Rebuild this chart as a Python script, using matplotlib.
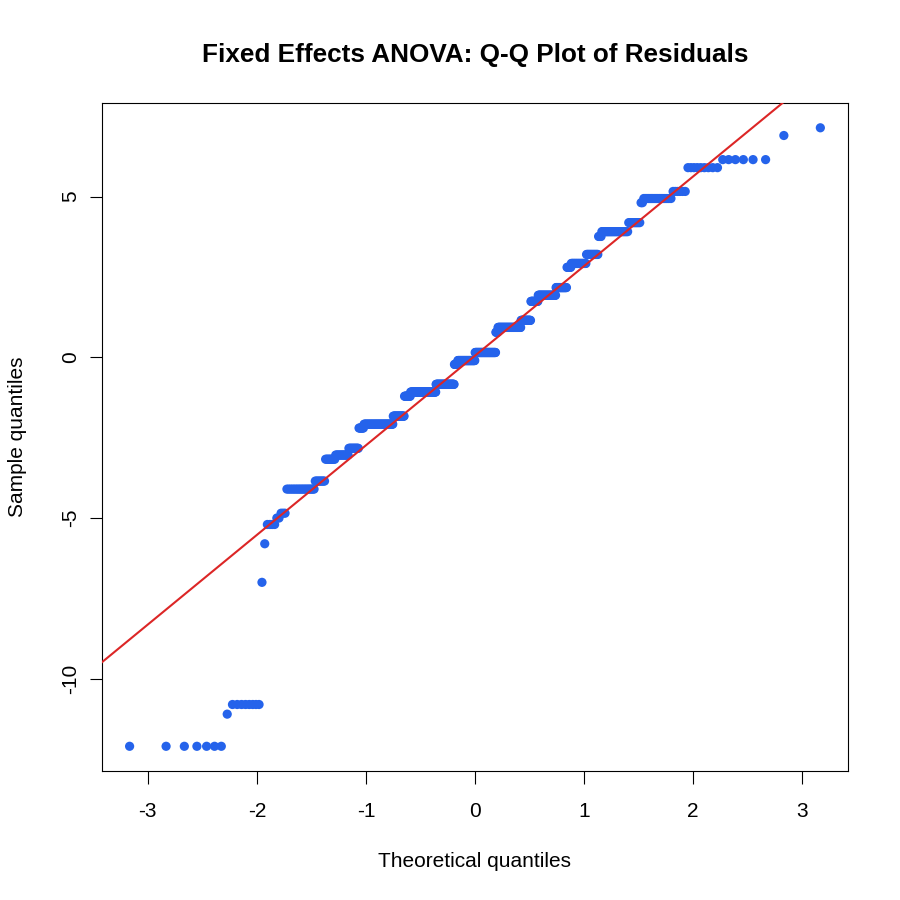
from statistics import NormalDist

import numpy as np
import matplotlib
matplotlib.use("Agg")
import matplotlib.pyplot as plt

plt.rcParams["font.family"] = ["Liberation Sans", "DejaVu Sans"]

# residual levels (sorted) and how many residuals sit at each level
residual_levels = [-12.1, -11.1, -10.8, -7.0, -5.8, -5.2, -5.0, -4.85, -4.1, -3.85,
                   -3.17, -3.04, -2.83, -2.2, -2.08, -1.83, -1.21, -1.08, -0.84, -0.22,
                   -0.10, 0.15, 0.78, 0.93, 1.15, 1.74, 1.93, 2.17, 2.8, 2.92,
                   3.2, 3.76, 3.91, 4.19, 4.81, 4.94, 5.16, 5.9, 6.15, 6.9, 7.14]
level_counts = [7, 1, 8, 1, 1, 4, 2, 3, 19, 9,
                10, 15, 13, 7, 47, 21, 12, 54, 42, 8,
                41, 49, 5, 52, 21, 15, 34, 19, 7, 23,
                16, 4, 28, 10, 2, 17, 6, 9, 6, 1, 1]

x_ticks = [-3, -2, -1, 0, 1, 2, 3]
y_ticks = [-10, -5, 0, 5]

POINT_COLOR = "#2563EB"
LINE_COLOR = "#DC2626"


def qq_data(levels, counts):
    sample = np.sort(np.repeat(levels, counts))
    n = len(sample)
    probs = (np.arange(1, n + 1) - 0.5) / n
    nd = NormalDist()
    theo = np.array([nd.inv_cdf(p) for p in probs])
    return theo, sample


theo, sample = qq_data(residual_levels, level_counts)

# qqline through the quartiles, like R
q1, q3 = np.quantile(sample, [0.25, 0.75])
z1, z3 = NormalDist().inv_cdf(0.25), NormalDist().inv_cdf(0.75)
slope = (q3 - q1) / (z3 - z1)
intercept = q1 - slope * z1

fig = plt.figure(figsize=(9, 9), dpi=100)
ax = fig.add_axes([0.1133, 0.1433, 0.8289, 0.7422])

ax.scatter(theo, sample, s=44, color=POINT_COLOR, edgecolors="none", zorder=2)
ax.axline((0, intercept), slope=slope, color=LINE_COLOR, lw=1.5, zorder=3)

xpad = 0.04 * (theo.max() - theo.min())
ypad = 0.04 * (sample.max() - sample.min())
ax.set_xlim(theo.min() - xpad, theo.max() + xpad)
ax.set_ylim(sample.min() - ypad, sample.max() + ypad)

ax.set_xticks(x_ticks)
ax.set_yticks(y_ticks)
ax.set_xticklabels([str(t) for t in x_ticks])
ax.set_yticklabels([str(t) for t in y_ticks], rotation=90, va="center")
ax.tick_params(length=9, width=0.8, labelsize=15)
ax.tick_params(axis="x", pad=13.5)
ax.tick_params(axis="y", pad=7)

for sp in ax.spines.values():
    sp.set_linewidth(0.8)

ax.set_xlabel("Theoretical quantiles", fontsize=15, labelpad=22)
ax.set_ylabel("Sample quantiles", fontsize=15, labelpad=24)
# R centres the title over the plot region, not the figure
fig.text(0.5278, 0.939, "Fixed Effects ANOVA: Q-Q Plot of Residuals",
         ha="center", va="center", fontsize=18.8, fontweight="bold")

fig.savefig("out.png", dpi=100)
